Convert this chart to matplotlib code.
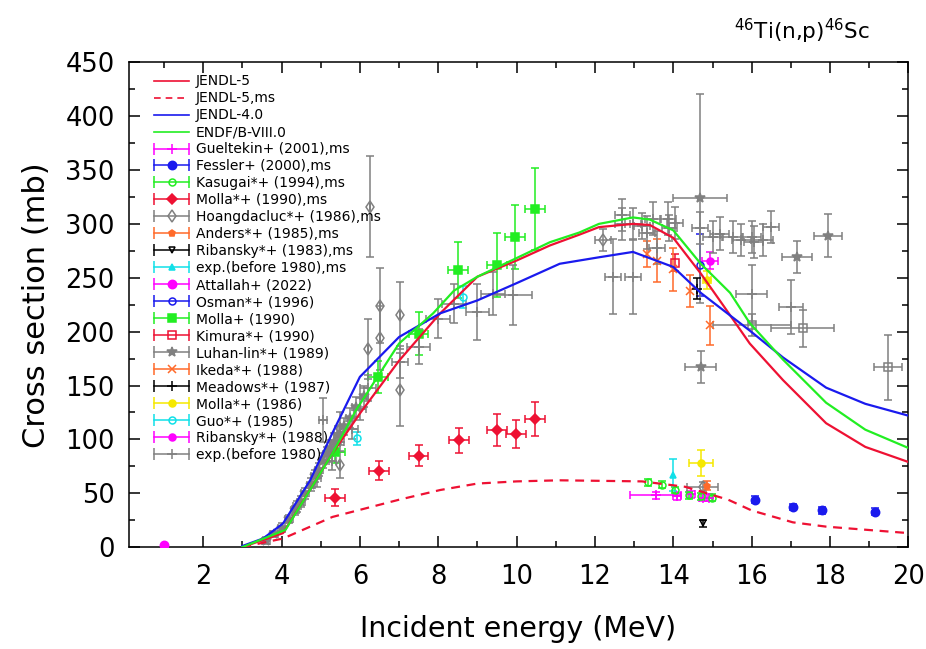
import matplotlib
matplotlib.use("Agg")
import matplotlib.pyplot as plt
from matplotlib.lines import Line2D
from matplotlib.legend_handler import HandlerLine2D, HandlerTuple
from matplotlib.ticker import MultipleLocator

# evaluated cross sections (MeV, mb)
jendl5_x = [3.0, 4.04, 5.3, 6.0, 7.0, 8.05, 9.0, 10.0, 10.85, 11.6, 12.1, 12.97, 13.4,
            14.0, 14.7, 15.3, 15.95, 16.8, 17.9, 18.9, 20.0]
jendl5_y = [0, 13, 87, 124, 173, 217, 251, 266, 280, 290, 297, 300, 299,
            287, 254, 223, 189, 155, 115, 93, 79]

jendl5ms_x = [3.0, 4.04, 5.3, 7.0, 8.05, 9.0, 10.0, 11.1, 13.2, 14.3, 15.4, 16.0, 17.05, 17.9, 20.0]
jendl5ms_y = [0, 8, 28, 44, 53, 59, 61, 62, 61, 56, 44, 34, 23, 19, 13]

jendl4_x = [3.0, 3.53, 4.04, 4.73, 5.3, 6.0, 7.0, 8.05, 9.0, 10.0, 11.1, 12.1, 12.97,
            14.0, 14.7, 15.95, 16.8, 17.9, 18.9, 20.0]
jendl4_y = [1, 8, 22, 62, 106, 158, 195, 217, 229, 245, 263, 269, 274,
            260, 236, 201, 176, 148, 133, 122]

endfb8_x = [3.0, 4.1, 5.3, 5.9, 7.0, 7.87, 8.4, 9.0, 10.85, 11.6, 12.1, 12.97, 13.4,
            14.0, 14.7, 15.45, 15.95, 16.8, 17.9, 18.9, 20.0]
endfb8_y = [0, 16, 87, 127, 189, 217, 238, 251, 283, 292, 300, 306, 304,
            294, 263, 236, 208, 174, 134, 109, 92]

# measurements
gueltekin_x = [13.55, 14.1, 14.45, 14.75, 14.9]
gueltekin_y = [48, 47, 49, 46, 46]
gueltekin_dx = [0.65, 0.1, 0.1, 0.1, 0.1]
gueltekin_dy = [3, 3, 3, 3, 3]

fessler_x = [16.08, 17.05, 17.8, 19.14]
fessler_y = [44, 37, 34, 33]
fessler_dy = [3, 3, 3, 3]

kasugai_x = [13.35, 13.7, 14.05, 14.4, 14.7, 14.98]
kasugai_y = [60, 58, 53, 48, 47, 46]
kasugai_dy = [3, 3, 3, 3, 3, 3]

molla90ms_x = [5.37, 6.49, 7.5, 8.53, 9.5, 9.98, 10.47]
molla90ms_y = [46, 71, 85, 99, 109, 105, 119]
molla90ms_dx = [0.25, 0.25, 0.25, 0.25, 0.25, 0.25, 0.25]
molla90ms_dy = [8, 9, 10, 12, 15, 13, 16]

hoangms_x = [14.75, 6.26, 6.51, 6.51, 7.03, 7.03, 6.2, 5.5, 5.5, 12.2]
hoangms_y = [56, 316, 224, 194, 215, 146, 184, 110, 76, 285]
hoangms_dx = [0.4, 0, 0, 0, 0, 0, 0, 0, 0, 0.2]
hoangms_dy = [4, 47, 35, 30, 31, 34, 28, 15, 12, 10]

andersms_x = [14.85]
andersms_y = [57]
andersms_dy = [4]

ribansky83_x = [14.77]
ribansky83_y = [22]
ribansky83_dy = [3]

oldms_x = [14.0]
oldms_y = [67]
oldms_dy = [15]

attallah_x = [1.0]
attallah_y = [2]

osman_x = [14.68]
osman_y = [262]
osman_dy = [29]

molla90_x = [5.37, 6.47, 7.5, 8.5, 9.5, 9.96, 10.47]
molla90_y = [88, 158, 198, 257, 262, 288, 314]
molla90_dx = [0.25, 0.25, 0.25, 0.25, 0.25, 0.25, 0.25]
molla90_dy = [10, 15, 20, 26, 30, 30, 38]

kimura_x = [14.04]
kimura_y = [264]
kimura_dy = [8]

luhan_x = [3.6, 3.8, 4.0, 4.2, 4.35, 4.5, 4.6, 4.75, 4.85, 4.95, 5.05, 5.15, 5.25,
           5.35, 5.45, 5.6, 5.75, 5.9, 6.1, 14.68, 14.7, 17.15, 17.95]
luhan_y = [6, 12, 18, 26, 34, 42, 50, 58, 66, 72, 80, 86, 92,
           98, 104, 112, 120, 130, 140, 324, 167, 269, 289]
luhan_dx = [0.1] * 19 + [0.7, 0.4, 0.38, 0.35]
luhan_dy = [3, 3, 4, 4, 4, 5, 5, 6, 6, 6, 7, 7, 7,
            8, 8, 8, 9, 9, 10, 97, 15, 15, 20]

ikeda_x = [13.33, 13.58, 14.0, 14.42, 14.93]
ikeda_y = [272, 266, 258, 238, 206]
ikeda_dy = [12, 20, 20, 15, 18]

meadows_x = [14.6]
meadows_y = [240]
meadows_dy = [10]

molla86_x = [14.7, 14.85]
molla86_y = [78, 248]
molla86_dx = [0.3, 0.1]
molla86_dy = [12, 8]

guo_x = [5.92, 8.63]
guo_y = [101, 232]
guo_dy = [6, 10]

ribansky88_x = [14.93]
ribansky88_y = [266]
ribansky88_dx = [0.2]
ribansky88_dy = [8]

old_x = [4.4, 4.9, 5.06, 5.3, 5.5, 5.8, 6.0, 6.2, 7.03, 7.5, 8.0, 8.4, 9.0, 9.4, 9.9,
         12.46, 12.97, 12.7, 12.7, 12.97, 13.48, 13.58, 13.86, 14.04, 13.33, 14.68,
         15.0, 15.18, 15.52, 15.74, 16.0, 16.05, 16.3, 16.5, 16.0, 17.0, 13.2, 13.9]
old_y = [38, 64, 118, 80, 98, 110, 128, 148, 172, 186, 212, 226, 218, 235, 234,
         251, 251, 308, 300, 300, 305, 278, 305, 301, 292, 296,
         288, 291, 288, 285, 288, 283, 285, 297, 235, 223, 298, 296]
old_dx = [0.1, 0.1, 0.1, 0.1, 0.1, 0.15, 0.15, 0.2, 0.2, 0.3, 0.3, 0.3, 0.3, 0.3, 0.5,
          0.2, 0.2, 0.2, 0.2, 0.2, 0.2, 0.2, 0.2, 0.2, 0.2, 0.2,
          0.25, 0.25, 0.25, 0.25, 0.25, 0.25, 0.25, 0.2, 0.4, 0.3, 0.2, 0.2]
old_dy = [5, 8, 20, 8, 9, 10, 10, 12, 15, 16, 18, 18, 26, 20, 28,
          35, 35, 15, 15, 15, 15, 15, 15, 15, 15, 15,
          15, 15, 15, 15, 15, 15, 15, 15, 27, 25, 12, 12]

sq_x = [16.0, 17.3, 19.48]
sq_y = [206, 203, 167]
sq_dx = [1.0, 0.8, 0.35]
sq_dy = [10, 17, 30]

RED = "#ee1133"
BLUE = "#1a1aee"
GREEN = "#22ee22"
GRAY = "#808080"
ORANGE = "#ff6a2a"
MAGENTA = "#ff00ff"
CYAN = "#11e0e8"
YELLOW = "#f5e800"

plt.rcParams["font.family"] = "DejaVu Sans"

fig = plt.figure(figsize=(9.26, 6.49), dpi=100)
ax = fig.add_axes([0.139, 0.157, 0.842, 0.747])

handles = []
labels = []
cap_lines = {}


def add_line(x, y, color, label, ls="-"):
    ax.plot(x, y, color=color, lw=1.6, ls=ls, zorder=5)
    handles.append(Line2D([], [], color=color, lw=1.2, ls=ls))
    labels.append(label)


def add_points(x, y, color, marker, label, mfc=None, ms=5, dx=None, dy=None):
    ax.errorbar(x, y, xerr=dx, yerr=dy, fmt=marker, color=color,
                mfc=color if mfc is None else mfc, ms=ms, mew=1.1,
                elinewidth=1.1, capsize=3, capthick=1.1, zorder=3)
    if label is None:
        return
    bar = Line2D([], [], color=color, lw=1.1, marker="|", ms=8, mew=1.1)
    dot = Line2D([], [], ls="none", color=color, marker=marker,
                 mfc=color if mfc is None else mfc, ms=ms, mew=1.1)
    cap_lines[bar] = HandlerLine2D(numpoints=2, marker_pad=0.0)
    handles.append((bar, dot))
    labels.append(label)


add_line(jendl5_x, jendl5_y, RED, "JENDL-5")
add_line(jendl5ms_x, jendl5ms_y, RED, "JENDL-5,ms", ls=(0, (4, 3)))
add_line(jendl4_x, jendl4_y, BLUE, "JENDL-4.0")
add_line(endfb8_x, endfb8_y, GREEN, "ENDF/B-VIII.0")

add_points(gueltekin_x, gueltekin_y, MAGENTA, "+", "Gueltekin+ (2001),ms",
           dx=gueltekin_dx, dy=gueltekin_dy, ms=7)
add_points(fessler_x, fessler_y, BLUE, "o", "Fessler+ (2000),ms", dy=fessler_dy, ms=6)
add_points(kasugai_x, kasugai_y, GREEN, "o", "Kasugai*+ (1994),ms", mfc="none",
           dy=kasugai_dy)
add_points(molla90ms_x, molla90ms_y, RED, "D", "Molla*+ (1990),ms",
           dx=molla90ms_dx, dy=molla90ms_dy)
add_points(hoangms_x, hoangms_y, GRAY, "d", "Hoangdacluc*+ (1986),ms", mfc="none",
           dx=hoangms_dx, dy=hoangms_dy, ms=6)
add_points(andersms_x, andersms_y, ORANGE, "p", "Anders*+ (1985),ms", dy=andersms_dy)
add_points(ribansky83_x, ribansky83_y, "black", "v", "Ribansky*+ (1983),ms",
           mfc="none", dy=ribansky83_dy)
add_points(oldms_x, oldms_y, CYAN, "^", "exp.(before 1980),ms", dy=oldms_dy)
add_points(attallah_x, attallah_y, MAGENTA, "o", "Attallah+ (2022)", ms=6)
add_points(osman_x, osman_y, BLUE, "o", "Osman*+ (1996)", mfc="none", dy=osman_dy)
add_points(molla90_x, molla90_y, GREEN, "s", "Molla+ (1990)",
           dx=molla90_dx, dy=molla90_dy, ms=6)
add_points(kimura_x, kimura_y, RED, "s", "Kimura*+ (1990)", mfc="none",
           dy=kimura_dy, ms=6)
add_points(luhan_x, luhan_y, GRAY, "*", "Luhan-lin*+ (1989)",
           dx=luhan_dx, dy=luhan_dy, ms=7)
add_points(ikeda_x, ikeda_y, ORANGE, "x", "Ikeda*+ (1988)", dy=ikeda_dy, ms=6)
add_points(meadows_x, meadows_y, "black", "+", "Meadows*+ (1987)",
           dy=meadows_dy, ms=7)
add_points(molla86_x, molla86_y, YELLOW, "o", "Molla*+ (1986)",
           dx=molla86_dx, dy=molla86_dy)
add_points(guo_x, guo_y, CYAN, "o", "Guo*+ (1985)", mfc="none", dy=guo_dy)
add_points(ribansky88_x, ribansky88_y, MAGENTA, "o", "Ribansky*+ (1988)",
           dx=ribansky88_dx, dy=ribansky88_dy)
add_points(old_x, old_y, GRAY, "+", "exp.(before 1980)",
           dx=old_dx, dy=old_dy, ms=7)
add_points(sq_x, sq_y, GRAY, "s", None, mfc="none", dx=sq_dx, dy=sq_dy, ms=6)

ax.set_xlim(0.1, 20)
ax.set_ylim(0, 450)
ax.xaxis.set_major_locator(MultipleLocator(2))
ax.xaxis.set_minor_locator(MultipleLocator(1))
ax.yaxis.set_major_locator(MultipleLocator(50))
ax.yaxis.set_minor_locator(MultipleLocator(25))
ax.tick_params(which="both", direction="in", top=True, right=True, width=1.1)
ax.tick_params(which="major", length=8, labelsize=18.5)
ax.tick_params(axis="x", which="major", pad=12)
ax.tick_params(axis="y", which="major", pad=10)
ax.tick_params(which="minor", length=4)
for s in ax.spines.values():
    s.set_linewidth(1.1)

ax.set_xlabel("Incident energy (MeV)", fontsize=20.5, labelpad=18)
ax.set_ylabel("Cross section (mb)", fontsize=22, labelpad=10)
fig.text(0.94, 0.952, r"$^{46}$Ti(n,p)$^{46}$Sc", fontsize=15.5, ha="right", va="center")

handler_map = {tuple: HandlerTuple(ndivide=1)}
handler_map.update(cap_lines)
ax.legend(handles, labels, handler_map=handler_map, loc="upper left",
          bbox_to_anchor=(0.033, 0.975), frameon=False, fontsize=10,
          numpoints=1, handlelength=2.5, handletextpad=0.5,
          labelspacing=0.215, borderaxespad=0, borderpad=0)

fig.savefig("out.png", dpi=100)
